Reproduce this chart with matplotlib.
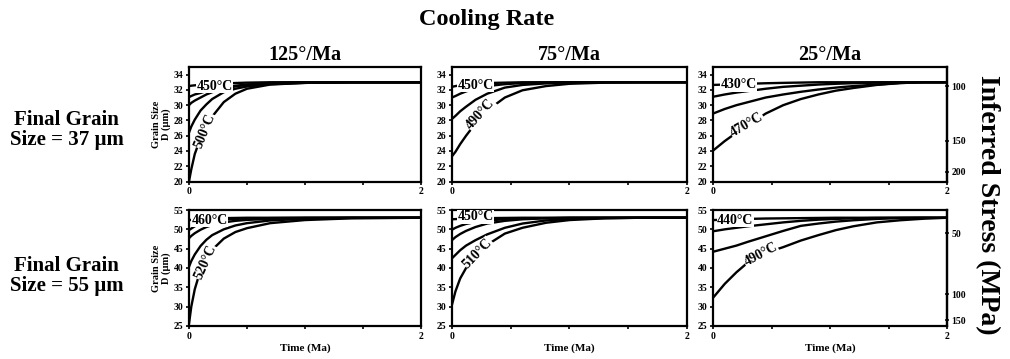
import matplotlib
matplotlib.use("Agg")
import matplotlib.pyplot as plt
import numpy as np

plt.rcParams['font.family'] = ['Liberation Serif', 'DejaVu Serif']
plt.rcParams['font.weight'] = 'bold'

# ---------------- data ----------------
cooling_rates = ["125°/Ma", "75°/Ma", "25°/Ma"]
final_sizes = ["37", "55"]

T_125 = [0, 0.02, 0.05, 0.1, 0.15, 0.2, 0.3, 0.4, 0.5, 0.7, 1.0, 1.4, 2.0]
T_75 = [0, 0.03, 0.07, 0.12, 0.2, 0.3, 0.45, 0.6, 0.8, 1.0, 1.3, 1.6, 2.0]
T_25 = [0, 0.1, 0.2, 0.3, 0.45, 0.6, 0.75, 0.9, 1.05, 1.2, 1.4, 1.6, 1.8, 2.0]

# Top row (final grain size 37 um)
TL_curves = [
    [32.5, 32.55, 32.6, 32.65, 32.7, 32.75, 32.85, 32.9, 32.95, 33.0, 33.0, 33.0, 33.0],
    [31.05, 31.2, 31.4, 31.6, 31.85, 32.0, 32.3, 32.55, 32.7, 32.9, 32.98, 33.0, 33.0],
    [30.0, 30.3, 30.6, 31.0, 31.4, 31.7, 32.15, 32.45, 32.65, 32.85, 32.97, 33.0, 33.0],
    [26.4, 27.2, 28.1, 29.3, 30.1, 30.8, 31.7, 32.15, 32.45, 32.75, 32.92, 33.0, 33.0],
    [20.0, 21.6, 23.6, 25.7, 27.3, 28.5, 30.4, 31.5, 32.15, 32.7, 32.92, 33.0, 33.0],
]
TM_curves = [
    [32.4, 32.5, 32.6, 32.7, 32.8, 32.9, 32.95, 33.0, 33.0, 33.0, 33.0, 33.0, 33.0],
    [31.0, 31.2, 31.5, 31.8, 32.2, 32.5, 32.75, 32.9, 32.97, 33.0, 33.0, 33.0, 33.0],
    [28.2, 28.6, 29.2, 29.8, 30.7, 31.5, 32.3, 32.65, 32.85, 32.95, 33.0, 33.0, 33.0],
    [23.3, 23.9, 24.9, 26.0, 27.6, 29.3, 31.0, 31.95, 32.5, 32.8, 32.95, 33.0, 33.0],
]
TR_curves = [
    [32.65, 32.7, 32.75, 32.8, 32.87, 32.92, 32.96, 33.0, 33.0, 33.0, 33.0, 33.0, 33.0, 33.0],
    [31.1, 31.4, 31.65, 31.85, 32.15, 32.4, 32.55, 32.7, 32.8, 32.88, 32.95, 33.0, 33.0, 33.0],
    [28.9, 29.5, 30.0, 30.4, 31.0, 31.4, 31.75, 32.05, 32.3, 32.5, 32.7, 32.9, 33.0, 33.0],
    [24.05, 25.3, 26.4, 27.4, 28.9, 30.0, 30.8, 31.4, 31.9, 32.25, 32.65, 32.9, 33.0, 33.0],
]
# Bottom row (final grain size 55 um)
BL_curves = [
    [52.4, 52.45, 52.55, 52.65, 52.75, 52.8, 52.9, 52.95, 53.0, 53.0, 53.0, 53.0, 53.0],
    [49.8, 50.2, 50.8, 51.5, 51.9, 52.2, 52.5, 52.7, 52.8, 52.9, 53.0, 53.0, 53.0],
    [47.7, 48.3, 49.0, 49.9, 50.6, 51.1, 51.8, 52.2, 52.45, 52.7, 52.9, 53.0, 53.0],
    [40.3, 41.8, 43.5, 45.7, 47.3, 48.5, 50.0, 51.0, 51.6, 52.3, 52.75, 52.95, 53.0],
    [25.5, 30.0, 34.5, 39.5, 42.5, 44.7, 47.6, 49.3, 50.3, 51.6, 52.4, 52.85, 53.0],
]
BM_curves = [
    [52.6, 52.65, 52.7, 52.8, 52.85, 52.9, 52.95, 53.0, 53.0, 53.0, 53.0, 53.0, 53.0],
    [49.9, 50.4, 50.9, 51.4, 51.9, 52.3, 52.6, 52.8, 52.9, 53.0, 53.0, 53.0, 53.0],
    [47.2, 48.0, 48.8, 49.6, 50.6, 51.5, 52.2, 52.6, 52.85, 52.95, 53.0, 53.0, 53.0],
    [42.5, 43.4, 44.6, 45.8, 47.2, 48.7, 50.4, 51.5, 52.3, 52.7, 52.9, 53.0, 53.0],
    [30.5, 34.0, 37.3, 40.0, 43.0, 46.0, 48.9, 50.4, 51.7, 52.4, 52.85, 53.0, 53.0],
]
BR_curves = [
    [52.4, 52.5, 52.6, 52.7, 52.8, 52.85, 52.9, 52.95, 53.0, 53.0, 53.0, 53.0, 53.0, 53.0],
    [49.5, 50.0, 50.4, 50.8, 51.3, 51.8, 52.2, 52.5, 52.7, 52.85, 52.95, 53.0, 53.0, 53.0],
    [44.2, 45.0, 45.8, 46.8, 48.2, 49.6, 50.9, 51.5, 52.0, 52.35, 52.7, 52.9, 53.0, 53.0],
    [32.3, 35.9, 38.9, 41.5, 43.9, 45.4, 47.1, 48.5, 49.8, 50.8, 51.8, 52.35, 52.75, 53.0],
]

# temperature labels: (text, t, D, rotation)
TL_labels = [("450°C", 0.22, 32.5, 0), ("500°C", 0.14, 26.6, 68)]
TM_labels = [("450°C", 0.20, 32.6, 0), ("490°C", 0.245, 28.8, 48)]
TR_labels = [("430°C", 0.22, 32.65, 0), ("470°C", 0.29, 27.4, 30)]
BL_labels = [("460°C", 0.18, 52.4, 0), ("520°C", 0.14, 41.5, 66)]
BM_labels = [("450°C", 0.20, 53.2, 0), ("510°C", 0.22, 43.8, 46)]
BR_labels = [("440°C", 0.19, 52.4, 0), ("490°C", 0.41, 43.4, 28)]

y_ticks_top = [20, 22, 24, 26, 28, 30, 32, 34]
y_ticks_bot = [25, 30, 35, 40, 45, 50, 55]
ylim_top = (20, 35)
ylim_bot = (25, 55)
x_ticks = [0, 0.5, 1, 1.5, 2]
x_ticklabels = ["0", "", "", "", "2"]

stress_ticks_top = [100, 150, 200]
stress_ticks_bot = [50, 100, 150]
# grain-size piezometer used for the right axis: D = A * (sigma/100)^-p
piezo_top = (32.48, 0.61)
piezo_bot = (33.2, 0.56)

# ---------------- layout ----------------
fig = plt.figure(figsize=(10.1, 3.59), dpi=100)
LEFTS = [0.1871, 0.4475, 0.7060]
WIDTHS = [0.2297, 0.2327, 0.2317]
BOTTOMS = [0.4944, 0.0920]
HEIGHTS = [0.3190, 0.3230]

panels = [
    [(T_125, TL_curves, TL_labels), (T_75, TM_curves, TM_labels), (T_25, TR_curves, TR_labels)],
    [(T_125, BL_curves, BL_labels), (T_75, BM_curves, BM_labels), (T_25, BR_curves, BR_labels)],
]


def make_piezo(A, p):
    def fwd(D):
        D = np.clip(np.asarray(D, dtype=float), 1e-3, None)
        return 100.0 * (D / A) ** (-1.0 / p)

    def inv(s):
        s = np.clip(np.asarray(s, dtype=float), 1e-3, None)
        return A * (s / 100.0) ** (-p)
    return fwd, inv


for r in range(2):
    for c in range(3):
        times, curves, labels = panels[r][c]
        ax = fig.add_axes([LEFTS[c], BOTTOMS[r], WIDTHS[c], HEIGHTS[r]])
        for ys in curves:
            ax.plot(times, ys, color="black", lw=1.7, solid_capstyle="butt")
        for txt, tx, ty, rot in labels:
            ax.text(tx, ty, txt, fontsize=10, fontweight="bold", rotation=rot,
                    ha="center", va="center",
                    bbox=dict(facecolor="white", edgecolor="none", pad=0.2))
        ax.set_xlim(0, 2)
        if r == 0:
            ax.set_ylim(*ylim_top)
            ax.set_yticks(y_ticks_top)
        else:
            ax.set_ylim(*ylim_bot)
            ax.set_yticks(y_ticks_bot)
        ax.set_xticks(x_ticks)
        ax.set_xticklabels(x_ticklabels)
        ax.tick_params(axis="both", direction="out", length=2.5, width=1.2,
                       labelsize=7, pad=1.5)
        for lab in ax.get_xticklabels() + ax.get_yticklabels():
            lab.set_fontweight("bold")
        for sp in ax.spines.values():
            sp.set_linewidth(1.6)
        if c == 0:
            ax.set_ylabel("Grain Size\nD (µm)", fontsize=7.5, fontweight="bold",
                          labelpad=2, linespacing=1.0)
        if r == 1:
            ax.set_xlabel("Time (Ma)", fontsize=8, fontweight="bold", labelpad=2)
        if r == 0:
            ax.set_title(cooling_rates[c], fontsize=14.5, fontweight="bold", pad=5)
        if c == 2:
            A, p = piezo_top if r == 0 else piezo_bot
            fwd, inv = make_piezo(A, p)
            sec = ax.secondary_yaxis("right", functions=(fwd, inv))
            sec.set_yticks(stress_ticks_top if r == 0 else stress_ticks_bot)
            sec.tick_params(direction="inout", length=3, width=1.1, labelsize=7, pad=1.5)
            sec.spines["right"].set_linewidth(1.6)
            for lab in sec.get_yticklabels():
                lab.set_fontweight("bold")

fig.text(0.482, 0.945, "Cooling Rate", fontsize=17.5, fontweight="bold",
         ha="center", va="center")
for r, yc in enumerate([0.638, 0.231]):
    fig.text(0.066, yc, "Final Grain\nSize = %s µm" % final_sizes[r], fontsize=15,
             fontweight="bold", ha="center", va="center", linespacing=1.05)
fig.text(0.978, 0.43, "Inferred Stress (MPa)", fontsize=20, fontweight="bold",
         rotation=-90, ha="center", va="center")

fig.savefig("out.png", dpi=100)
